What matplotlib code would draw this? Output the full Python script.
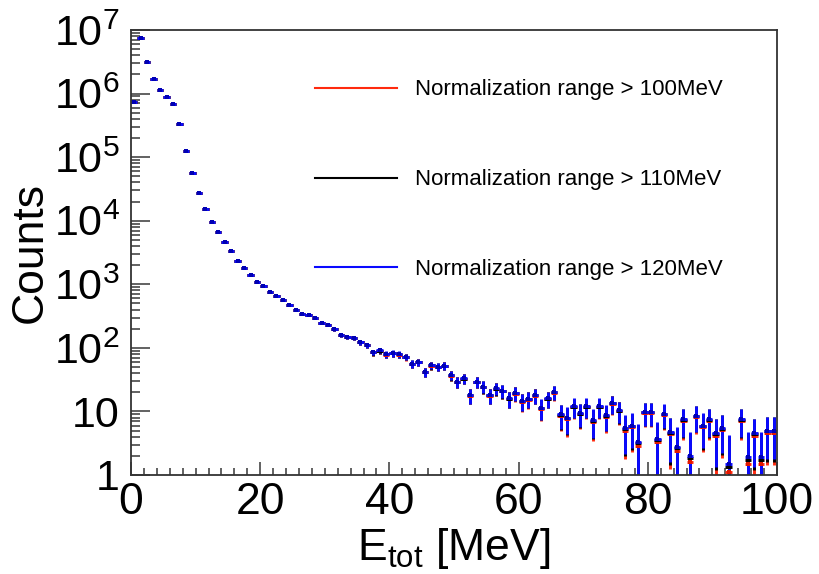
import numpy as np
import matplotlib.pyplot as plt
from matplotlib import font_manager
from matplotlib.lines import Line2D
from matplotlib.ticker import FixedLocator, MultipleLocator, NullFormatter

plt.rcParams['font.family'] = ['Liberation Sans', 'DejaVu Sans']
plt.rcParams['mathtext.fontset'] = 'custom'
plt.rcParams['mathtext.rm'] = 'Liberation Sans'
plt.rcParams['mathtext.it'] = 'Liberation Sans:italic'

names = {f.name for f in font_manager.fontManager.ttflist}
narrow = 'Liberation Sans Narrow' if 'Liberation Sans Narrow' in names else 'Liberation Sans'

# bin edges 0..100 MeV, 1 MeV bins
edges = np.arange(0, 101, 1)

# counts (normalization range > 120 MeV, drawn on top)
counts_120 = [7.3e5, 7.5e6, 3.1e6, 1.7e6, 1.15e6, 8.8e5, 6.8e5, 3.3e5, 1.25e5, 5.6e4,
              2.7e4, 1.55e4, 9.7e3, 6.6e3, 4.6e3, 3.3e3, 2.3e3, 1.8e3, 1.4e3, 1.07e3,
              930, 770, 650, 560, 480, 400, 345, 330, 300, 250,
              233, 196, 160, 150, 143, 122, 110, 85, 91, 79,
              82, 79, 72, 56, 60, 42, 53, 50, 52, 37,
              29, 33, 18, 29, 24.5, 18, 23, 21, 16, 19.5,
              14.7, 15.8, 18, 11.4, 16, 20, 9, 8, 12, 9.4,
              12, 7.3, 12, 8.7, 13.5, 10.4, 5.4, 6, 3.3, 9.8,
              9.8, 3.7, 9.2, 4.8, 2.8, 7.5, 2.0, 8.5, 6, 7.5,
              4.5, 5.5, 1.5, 0, 7.5, 1.9, 4.5, 1.9, 5, 5]

# the other normalizations subtract slightly more background
shift_110 = 0.15
shift_100 = 0.4

labels = ["Normalization range > 100MeV",
          "Normalization range > 110MeV",
          "Normalization range > 120MeV"]
colors = ["#ff2a0e", "black", "#0a0aff"]
marker_colors = ["#e01800", "black", "#0000b4"]

centers = 0.5 * (edges[:-1] + edges[1:])
base = np.array(counts_120, dtype=float)

fig = plt.figure(figsize=(8.2, 5.74), dpi=100)
ax = fig.add_axes([131 / 820, 99 / 574, 646 / 820, 445 / 574])


def draw(vals, color, mcolor):
    ok = vals > 0
    v = vals[ok]
    # poisson + background-subtraction variance
    err = np.sqrt(0.9 * v + 6.0)
    lo = np.minimum(err, v - 0.3)
    ax.errorbar(centers[ok], v, yerr=[lo, err], xerr=0.5, fmt='s',
                color=color, mfc=mcolor, ms=2.4, elinewidth=2.1, capsize=0, mew=0)


draw(base - shift_100, colors[0], marker_colors[0])
draw(base - shift_110, colors[1], marker_colors[1])
draw(base, colors[2], marker_colors[2])

ax.set_yscale('log')
ax.set_xlim(0, 100)
ax.set_ylim(1, 1e7)

ax.xaxis.set_major_locator(MultipleLocator(20))
ax.xaxis.set_minor_locator(MultipleLocator(2))
ax.yaxis.set_major_locator(FixedLocator([10.0 ** k for k in range(8)]))
ax.yaxis.set_minor_locator(FixedLocator([m * 10.0 ** k for k in range(7) for m in range(2, 10)]))
ax.yaxis.set_minor_formatter(NullFormatter())
ylabels = ["1", "10"] + [r"10$^{%d}$" % k for k in range(2, 8)]
ax.set_yticklabels(ylabels, family=narrow)

ax.tick_params(axis='both', which='both', direction='in', color='#555555', width=1.3,
               top=False, right=False)
ax.tick_params(axis='x', which='major', length=9.5, pad=5, labelsize=32)
ax.tick_params(axis='x', which='minor', length=5)
ax.tick_params(axis='y', which='major', length=14, pad=8, labelsize=31)
ax.tick_params(axis='y', which='minor', length=6.5)
for s in ax.spines.values():
    s.set_linewidth(1.3)
    s.set_color('#333333')

ax.set_xlabel(r"E$_{\mathrm{tot}}$ [MeV]", fontsize=32, labelpad=2)
ax.set_ylabel("Counts", fontsize=32, labelpad=2)

handles = [Line2D([], [], color=c, lw=1.5) for c in colors]
ax.legend(handles, labels, loc='upper left', bbox_to_anchor=(0.285, 0.889),
          frameon=False, fontsize=16, handlelength=3.7, handletextpad=0.8,
          labelspacing=3.1, borderpad=0, borderaxespad=0)

fig.savefig("out.png", dpi=100)
